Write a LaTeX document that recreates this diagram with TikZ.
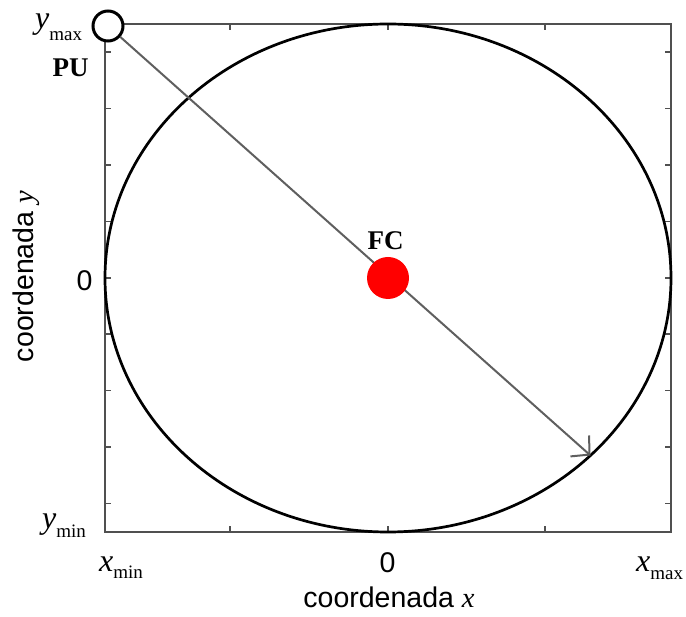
\documentclass[tikz,border=0pt]{standalone}
\usepackage{fontspec}
\setmainfont{Liberation Serif}
\newfontfamily\axisfont{Liberation Sans}
\usetikzlibrary{arrows.meta}
\definecolor{frameGray}{RGB}{80, 80, 80}
\definecolor{arrowGray}{RGB}{95, 95, 95}
\definecolor{dotRed}{RGB}{255, 0, 0}
\newcommand{\axlbl}[3][9pt]{\fontsize{32}{34}\selectfont\textit{#2}\raisebox{-#1}{\fontsize{19}{21}\selectfont #3}}

\begin{document}
\begin{tikzpicture}[x=1pt, y=-1pt,
    axtxt/.style={font=\axisfont\fontsize{28.5}{30}\selectfont, inner sep=0pt},
    boldtxt/.style={font=\bfseries\fontsize{27}{29}\selectfont, inner sep=0pt},
    frame/.style={frameGray, line width=1.5pt}]
  \useasboundingbox (0,0) rectangle (686,617);
  % axes box and ticks
  \draw[frame] (105,24) rectangle (671,532);
  \foreach \k in {0,...,8} {
    \draw[frame] (105,52.2+56.4*\k) -- ++(6,0);
    \draw[frame] (671,52.2+56.4*\k) -- ++(-6,0);
  }
  \foreach \x in {230,388,545} {
    \draw[frame] (\x,532) -- ++(0,-6);
    \draw[frame] (\x,24) -- ++(0,6);
  }
  % coverage ellipse
  \draw[black, line width=2.7pt] (388,278) ellipse [x radius=283pt, y radius=254pt];
  % user and centre
  \node[circle, draw, fill=white, line width=3pt, minimum size=30pt, inner sep=0pt] (pu) at (108,26) {};
  \coordinate (tip) at (590.5,455.5);
  \draw[arrowGray, line width=2pt, -{Straight Barb[length=13pt, width=28pt]}] (pu) -- (tip);
  \node[circle, fill=dotRed, minimum size=42pt, inner sep=0pt] (fc) at (388,278) {};
  \node[boldtxt] (fclbl) at (385.5,241) {FC};
  \node[boldtxt] (pulbl) at (70.5,67.5) {PU};
  % axis labels
  \node[anchor=base west, inner sep=0pt] (ymax) at (35,29) {\axlbl[12pt]{y}{max}};
  \node[anchor=base west, inner sep=0pt] (ymin) at (42,529) {\axlbl{y}{min}};
  \node[anchor=base west, inner sep=0pt] (xmin) at (99,572) {\axlbl[7pt]{x}{min}};
  \node[anchor=base west, inner sep=0pt] (xmax) at (636,572) {\axlbl[8pt]{x}{max}};
  \node[axtxt] (x0) at (387.5,563) {0};
  \node[axtxt] (y0) at (84.5,280.5) {0};
  \node[axtxt, anchor=base] (xtitle) at (389,608) {coordenada {\rmfamily\itshape x}};
  \node[axtxt, rotate=90, anchor=base] (ytitle) at (33,276.5) {coordenada {\rmfamily\itshape y}};
\end{tikzpicture}
\end{document}
